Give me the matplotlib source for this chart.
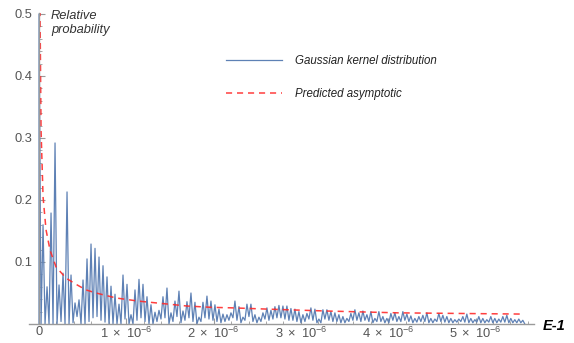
import numpy as np
import matplotlib.pyplot as plt
from matplotlib.ticker import MultipleLocator, FuncFormatter

plt.rcParams['font.family'] = ['Liberation Sans', 'DejaVu Sans']
plt.rcParams['mathtext.fontset'] = 'custom'
plt.rcParams['mathtext.rm'] = 'Liberation Sans'
plt.rcParams['mathtext.it'] = 'Liberation Sans:italic'

# spacing between the kernel peaks (in units of E-1)
peak_spacing = 0.0458e-6

# peak heights of the Gaussian kernel distribution, left to right
peaks = [
    0.50, 0.160, 0.060, 0.179, 0.292, 0.063, 0.082, 0.213, 0.079, 0.034,
    0.039, 0.071, 0.105, 0.129, 0.122, 0.108, 0.094, 0.076, 0.061, 0.048,
    0.032, 0.079, 0.064, 0.015, 0.055, 0.072, 0.064, 0.044, 0.031, 0.019,
    0.022, 0.044, 0.058, 0.018, 0.037, 0.053, 0.021, 0.036, 0.050, 0.035,
    0.011, 0.035, 0.045, 0.037, 0.031, 0.024, 0.016, 0.015, 0.018, 0.037,
    0.028, 0.011, 0.032, 0.032, 0.015, 0.011, 0.018, 0.026,
    0.022, 0.028, 0.030, 0.029, 0.029, 0.025, 0.024, 0.020, 0.015, 0.017,
    0.026, 0.024, 0.008, 0.023, 0.023, 0.020, 0.018, 0.015, 0.012, 0.009,
    0.017, 0.023, 0.018, 0.021, 0.015, 0.020, 0.009, 0.020, 0.012, 0.009,
    0.017, 0.018, 0.012,
    0.020, 0.016, 0.013, 0.009, 0.012, 0.014, 0.018, 0.009, 0.008, 0.017,
    0.014, 0.012, 0.009, 0.007, 0.008, 0.012, 0.016, 0.009, 0.007, 0.012,
    0.009, 0.007, 0.012, 0.009, 0.008, 0.012, 0.014, 0.009, 0.007, 0.008,
    0.006,
]

# minima between neighbouring peaks
troughs = [
    0.000, 0.000, 0.000, 0.000, 0.000, 0.004, 0.000, 0.000, 0.002, 0.012,
    0.000, 0.000, 0.004, 0.010, 0.012, 0.006, 0.003, 0.000, 0.000, 0.000,
    0.000, 0.008, 0.000, 0.000, 0.006, 0.010, 0.004, 0.000, 0.000, 0.004,
    0.008, 0.010, 0.000, 0.004, 0.012, 0.002, 0.006, 0.010, 0.004, 0.000,
    0.004, 0.010, 0.008, 0.006, 0.004, 0.002, 0.004, 0.006, 0.010, 0.006,
    0.002, 0.006, 0.012, 0.004, 0.002, 0.004, 0.008, 0.006, 0.008, 0.010,
    0.010, 0.008, 0.006, 0.006, 0.004, 0.002, 0.004, 0.008, 0.006, 0.002,
    0.002, 0.008, 0.006, 0.004, 0.004, 0.002, 0.002, 0.004, 0.006, 0.006,
    0.004, 0.006, 0.004, 0.002, 0.004, 0.004, 0.002, 0.002, 0.006, 0.004,
    0.004, 0.006, 0.004, 0.002, 0.003, 0.004, 0.004, 0.002, 0.002, 0.004,
    0.004, 0.003, 0.002, 0.002, 0.003, 0.004, 0.003, 0.002, 0.002, 0.003,
    0.002, 0.002, 0.003, 0.002, 0.002, 0.003, 0.003, 0.002, 0.002, 0.002,
    0.002,
]

# predicted asymptotic curve
asym_E = [0.0, 0.0115e-6, 0.023e-6, 0.046e-6, 0.080e-6, 0.126e-6, 0.195e-6,
          0.309e-6, 0.424e-6, 0.538e-6, 0.653e-6, 0.882e-6, 1.134e-6,
          1.695e-6, 1.959e-6, 2.22e-6, 2.62e-6, 3.28e-6, 4.11e-6, 4.82e-6,
          5.54e-6]
asym_P = [0.9, 0.50, 0.313, 0.205, 0.152, 0.119, 0.092, 0.074, 0.064, 0.055,
          0.050, 0.042, 0.037, 0.029, 0.027, 0.026, 0.024, 0.021, 0.018,
          0.017, 0.016]

x_ticks = [0, 1e-6, 2e-6, 3e-6, 4e-6, 5e-6]
y_ticks = [0.1, 0.2, 0.3, 0.4, 0.5]

# interleave peaks and troughs into one trace
peak_E = np.arange(len(peaks)) * peak_spacing
trough_E = peak_E[:-1] + peak_spacing / 2
kernel_E = np.empty(len(peaks) + len(troughs))
kernel_P = np.empty_like(kernel_E)
kernel_E[0::2], kernel_E[1::2] = peak_E, trough_E
kernel_P[0::2], kernel_P[1::2] = peaks, troughs
kernel_E = np.concatenate([[0.0], kernel_E, [peak_E[-1] + peak_spacing / 2]])
kernel_P = np.concatenate([[0.0], kernel_P, [0.0]])

W, H = 574, 343
fig = plt.figure(figsize=(W / 100, H / 100), dpi=100)
ax = fig.add_axes([29 / W, (H - 324) / H, (534 - 29) / W, (324 - 13) / H])

ax.plot(kernel_E, kernel_P, color='#5e81b5', lw=0.9,
        label='Gaussian kernel distribution')
ax.plot(asym_E, asym_P, color='#ff2a2a', lw=1.1, dashes=(4, 3.2), alpha=0.9,
        label='Predicted asymptotic')

ax.set_xlim(-0.115e-6, 5.67e-6)
ax.set_ylim(0, 0.5016)

axis_grey = '#9a9a9a'
for s in ['top', 'right']:
    ax.spines[s].set_visible(False)
ax.spines['left'].set_position(('data', 0))
for s in ['left', 'bottom']:
    ax.spines[s].set_color(axis_grey)
    ax.spines[s].set_linewidth(1.0)

ax.set_xticks(x_ticks)
ax.set_yticks(y_ticks)
ax.xaxis.set_minor_locator(MultipleLocator(0.2e-6))
ax.yaxis.set_minor_locator(MultipleLocator(0.02))


def sci_label(v, pos):
    if v == 0:
        return '0'
    return r'$\mathregular{%d\ \times\ 10^{-6}}$' % round(v * 1e6)


ax.xaxis.set_major_formatter(FuncFormatter(sci_label))
ax.yaxis.set_major_formatter(FuncFormatter(lambda v, p: '%.1f' % v))
ax.tick_params(which='both', direction='in', color=axis_grey,
               labelcolor='#555555', labelsize=9.3)
ax.tick_params(axis='x', labelsize=9.3)
ax.tick_params(which='major', length=4, width=0.8)
ax.tick_params(which='minor', length=2.2, width=0.6)
ax.tick_params(axis='x', pad=1.5)
ax.tick_params(axis='y', pad=5)

fig.text(51 / W, 1 - 10 / H, 'Relative\nprobability', style='italic',
         fontsize=9.3, color='#333333', va='top', ha='left', linespacing=1.25)
fig.text(543 / W, 1 - 326 / H, 'E-1', style='italic', weight='bold',
         fontsize=10.5, color='black', va='center', ha='left')

ax.legend(loc='upper left', bbox_to_anchor=(226 / W, 1 - 55 / H),
          bbox_transform=fig.transFigure, frameon=False,
          prop={'style': 'italic', 'size': 8.3}, handlelength=4.9,
          handletextpad=1.05, labelspacing=1.85, borderpad=0,
          borderaxespad=0, labelcolor='#222222')

fig.savefig('out.png', dpi=100)
